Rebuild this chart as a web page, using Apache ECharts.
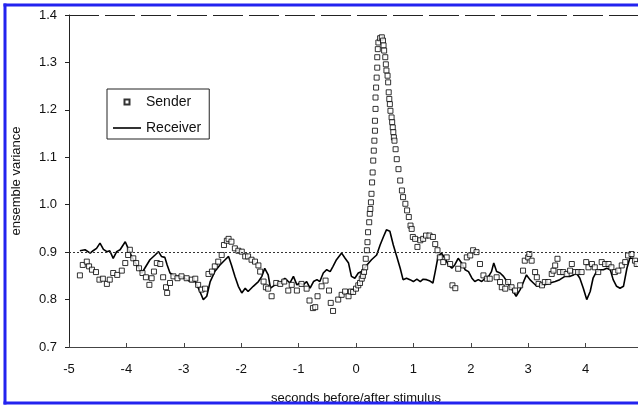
<!DOCTYPE html>
<html>
<head>
<meta charset="utf-8">
<script src="https://cdn.jsdelivr.net/npm/echarts@6/dist/echarts.min.js"></script>
<style>
  html, body { margin: 0; padding: 0; background: #fff; }
  #main { width: 638px; height: 407px; }
</style>
</head>
<body>
<div id="main"></div>
<script>
// Sender / Receiver ensemble variance vs time
var xTicks = [-5, -4, -3, -2, -1, 0, 1, 2, 3, 4];
var yTicks = [0.7, 0.8, 0.9, 1.0, 1.1, 1.2, 1.3, 1.4];
var refLevel = 0.9;

var receiverT = [-4.81, -4.72, -4.63, -4.58, -4.52, -4.46, -4.40, -4.34, -4.29, -4.23, -4.17, -4.11, -4.02, -3.97, -3.91, -3.82, -3.73, -3.68, -3.59, -3.50,
  -3.44, -3.39, -3.33, -3.29, -3.24, -3.15, -3.07, -2.98, -2.89, -2.80, -2.72, -2.66, -2.60, -2.54, -2.46, -2.37, -2.28, -2.22, -2.17, -2.11,
  -2.05, -1.99, -1.93, -1.88, -1.79, -1.70, -1.64, -1.59, -1.53, -1.49, -1.41, -1.32, -1.24, -1.15, -1.09, -1.03, -0.98, -0.92, -0.86, -0.80,
  -0.74, -0.68, -0.63, -0.57, -0.51, -0.45, -0.40, -0.34, -0.25, -0.19, -0.13, -0.08, -0.02, 0.04, 0.10, 0.19, 0.27, 0.36, 0.42, 0.48,
  0.53, 0.59, 0.65, 0.71, 0.77, 0.82, 0.88, 0.94, 1.00, 1.06, 1.12, 1.17, 1.23, 1.29, 1.34, 1.38, 1.43, 1.49, 1.55, 1.61,
  1.67, 1.72, 1.78, 1.84, 1.90, 1.96, 2.02, 2.07, 2.13, 2.19, 2.25, 2.31, 2.36, 2.40, 2.45, 2.51, 2.57, 2.63, 2.68, 2.74,
  2.79, 2.86, 2.91, 2.97, 3.03, 3.09, 3.15, 3.21, 3.29, 3.38, 3.47, 3.55, 3.64, 3.73, 3.79, 3.84, 3.90, 3.96, 4.02, 4.08,
  4.13, 4.19, 4.25, 4.31, 4.37, 4.43, 4.48, 4.54, 4.60, 4.66, 4.72, 4.77, 4.83, 4.89];
var receiverV = [0.903, 0.905, 0.898, 0.903, 0.908, 0.919, 0.906, 0.901, 0.903, 0.887, 0.901, 0.905, 0.922, 0.908, 0.891, 0.873, 0.856, 0.866, 0.884, 0.894,
  0.901, 0.891, 0.889, 0.873, 0.856, 0.849, 0.849, 0.845, 0.838, 0.838, 0.817, 0.800, 0.807, 0.838, 0.859, 0.873, 0.884, 0.891, 0.873, 0.849,
  0.828, 0.814, 0.824, 0.817, 0.828, 0.838, 0.849, 0.866, 0.852, 0.824, 0.831, 0.835, 0.845, 0.835, 0.849, 0.831, 0.835, 0.831, 0.838, 0.824,
  0.838, 0.842, 0.838, 0.856, 0.863, 0.859, 0.870, 0.884, 0.898, 0.887, 0.877, 0.849, 0.845, 0.856, 0.859, 0.873, 0.884, 0.894, 0.915, 0.933,
  0.947, 0.944, 0.915, 0.891, 0.866, 0.842, 0.845, 0.842, 0.838, 0.843, 0.838, 0.843, 0.842, 0.839, 0.835, 0.859, 0.891, 0.898, 0.887, 0.873,
  0.866, 0.873, 0.887, 0.877, 0.863, 0.859, 0.845, 0.838, 0.842, 0.838, 0.845, 0.849, 0.859, 0.877, 0.859, 0.856, 0.849, 0.838, 0.828, 0.817,
  0.807, 0.821, 0.835, 0.852, 0.842, 0.835, 0.828, 0.831, 0.831, 0.835, 0.838, 0.842, 0.849, 0.849, 0.852, 0.856, 0.845, 0.824, 0.800, 0.817,
  0.845, 0.859, 0.863, 0.863, 0.866, 0.863, 0.842, 0.828, 0.824, 0.828, 0.866, 0.887, 0.887, 0.870];

var senderT = [-4.81, -4.76, -4.69, -4.65, -4.60, -4.53, -4.47, -4.41, -4.34, -4.29, -4.23, -4.16, -4.08, -4.02, -3.97, -3.94, -3.88, -3.83, -3.78, -3.72,
  -3.66, -3.60, -3.56, -3.52, -3.47, -3.41, -3.36, -3.31, -3.29, -3.24, -3.18, -3.11, -3.04, -2.95, -2.86, -2.80, -2.75, -2.69, -2.63, -2.57,
  -2.51, -2.46, -2.40, -2.34, -2.30, -2.25, -2.22, -2.17, -2.11, -2.05, -1.99, -1.93, -1.88, -1.82, -1.76, -1.70, -1.67, -1.61, -1.57, -1.53,
  -1.47, -1.39, -1.32, -1.25, -1.18, -1.12, -1.03, -0.95, -0.86, -0.81, -0.75, -0.71, -0.67, -0.60, -0.53, -0.47, -0.44, -0.40, -0.31, -0.25,
  -0.19, -0.13, -0.09, -0.05, 0.00, 0.04, 0.07, 0.10, 0.12, 0.14, 0.16, 0.17, 0.19, 0.20, 0.21, 0.23, 0.24, 0.25, 0.26, 0.27,
  0.28, 0.29, 0.30, 0.31, 0.32, 0.33, 0.33, 0.34, 0.34, 0.35, 0.36, 0.37, 0.37, 0.38, 0.39, 0.42, 0.45, 0.47, 0.48, 0.49,
  0.51, 0.52, 0.53, 0.55, 0.56, 0.57, 0.58, 0.59, 0.60, 0.62, 0.63, 0.64, 0.65, 0.66, 0.67, 0.69, 0.71, 0.74, 0.77, 0.80,
  0.82, 0.86, 0.89, 0.92, 0.95, 0.97, 0.99, 1.03, 1.07, 1.12, 1.17, 1.22, 1.28, 1.34, 1.38, 1.42, 1.46, 1.52, 1.58, 1.64,
  1.68, 1.73, 1.78, 1.87, 1.93, 1.99, 2.04, 2.10, 2.16, 2.22, 2.28, 2.33, 2.45, 2.51, 2.54, 2.60, 2.65, 2.71, 2.77, 2.86,
  2.91, 2.94, 3.00, 3.02, 3.06, 3.12, 3.15, 3.18, 3.24, 3.29, 3.35, 3.41, 3.44, 3.47, 3.51, 3.55, 3.61, 3.67, 3.73, 3.76,
  3.82, 3.87, 3.93, 4.01, 4.05, 4.11, 4.16, 4.22, 4.28, 4.34, 4.40, 4.45, 4.51, 4.57, 4.63, 4.69, 4.74, 4.80, 4.86, 4.89];
var senderV = [0.851, 0.873, 0.880, 0.870, 0.863, 0.858, 0.842, 0.844, 0.833, 0.842, 0.856, 0.852, 0.861, 0.877, 0.894, 0.905, 0.887, 0.877, 0.866, 0.856,
  0.847, 0.831, 0.845, 0.859, 0.877, 0.875, 0.847, 0.826, 0.814, 0.835, 0.849, 0.845, 0.849, 0.845, 0.842, 0.844, 0.831, 0.821, 0.823, 0.854,
  0.859, 0.870, 0.880, 0.894, 0.915, 0.924, 0.928, 0.922, 0.908, 0.903, 0.901, 0.891, 0.891, 0.884, 0.880, 0.872, 0.859, 0.838, 0.826, 0.823,
  0.807, 0.835, 0.833, 0.838, 0.819, 0.831, 0.819, 0.833, 0.823, 0.798, 0.782, 0.784, 0.807, 0.828, 0.840, 0.819, 0.793, 0.776, 0.800, 0.810,
  0.817, 0.807, 0.817, 0.816, 0.823, 0.830, 0.835, 0.844, 0.850, 0.858, 0.868, 0.886, 0.904, 0.921, 0.942, 0.963, 0.981, 0.991, 1.005, 1.023,
  1.047, 1.068, 1.093, 1.114, 1.135, 1.156, 1.177, 1.202, 1.226, 1.247, 1.268, 1.289, 1.311, 1.328, 1.342, 1.351, 1.353, 1.346, 1.336, 1.325,
  1.311, 1.296, 1.283, 1.272, 1.258, 1.237, 1.223, 1.212, 1.198, 1.184, 1.174, 1.163, 1.153, 1.142, 1.135, 1.117, 1.096, 1.075, 1.051, 1.030,
  1.016, 1.002, 0.988, 0.974, 0.956, 0.949, 0.932, 0.928, 0.911, 0.925, 0.928, 0.935, 0.935, 0.932, 0.917, 0.904, 0.889, 0.879, 0.889, 0.875,
  0.830, 0.824, 0.865, 0.872, 0.889, 0.893, 0.904, 0.900, 0.875, 0.851, 0.844, 0.844, 0.847, 0.837, 0.826, 0.823, 0.837, 0.826, 0.819, 0.830,
  0.861, 0.882, 0.889, 0.896, 0.882, 0.858, 0.847, 0.833, 0.830, 0.837, 0.837, 0.854, 0.861, 0.872, 0.886, 0.858, 0.858, 0.854, 0.861, 0.875,
  0.858, 0.858, 0.858, 0.879, 0.868, 0.875, 0.868, 0.858, 0.879, 0.875, 0.875, 0.868, 0.858, 0.861, 0.872, 0.879, 0.893, 0.896, 0.882, 0.875];

function pairs(xs, ys) {
  var out = [];
  for (var i = 0; i < xs.length; i++) out.push([xs[i], ys[i]]);
  return out;
}

var chart = echarts.init(document.getElementById('main'), null, { renderer: 'canvas' });
var font = 'Liberation Sans, Arial, sans-serif';

// legend icons: the leading moves pin the 28x14 box so the marks keep their size
var senderIcon = 'path://M0,0M28,14M11.5,4.5h5v5h-5z';
var receiverIcon = 'path://M0,0M28,14M0,6.2h28v1.6h-28z';

var option = {
  backgroundColor: '#fff',
  animation: false,
  // plot box fixed in pixels, the x axis runs on past the right edge to 5
  grid: { left: 69, right: -5, top: 15, bottom: 60, outerBoundsMode: 'none', containLabel: false },
  legend: {
    orient: 'vertical',
    left: 107,
    top: 89,
    padding: [5, 8, 4, 5],
    itemGap: 11,
    itemWidth: 28,
    itemHeight: 14,
    borderColor: '#222',
    borderWidth: 1,
    textStyle: { fontFamily: font, fontSize: 14, color: '#111' },
    data: [
      { name: 'Sender', icon: senderIcon },
      { name: 'Receiver', icon: receiverIcon, itemStyle: { color: '#000', borderWidth: 0 } }
    ]
  },
  xAxis: {
    type: 'value',
    min: -5,
    max: 5,
    interval: 1,
    name: 'seconds before/after stimulus',
    nameLocation: 'middle',
    nameGap: 45,
    nameTextStyle: { fontFamily: font, fontSize: 13, color: '#111' },
    axisLine: { onZero: false, lineStyle: { color: '#444', width: 1 } },
    axisTick: { inside: true, length: 4, lineStyle: { color: '#444' } },
    axisLabel: {
      margin: 16, fontFamily: font, fontSize: 13, color: '#111',
      formatter: function (v) { return xTicks.indexOf(v) >= 0 ? String(v) : ''; }
    },
    splitLine: { show: false }
  },
  yAxis: {
    type: 'value',
    min: 0.7,
    max: 1.4,
    interval: 0.1,
    name: 'ensemble variance',
    nameLocation: 'middle',
    nameGap: 46,
    nameTextStyle: { fontFamily: font, fontSize: 13, color: '#111' },
    axisLine: { show: true, onZero: false, lineStyle: { color: '#222', width: 1 } },
    axisTick: { show: true, length: 4, lineStyle: { color: '#222' } },
    axisLabel: {
      margin: 12, fontFamily: font, fontSize: 13, color: '#111',
      formatter: function (v) {
        for (var i = 0; i < yTicks.length; i++) {
          if (Math.abs(yTicks[i] - v) < 1e-6) return yTicks[i].toFixed(1);
        }
        return '';
      }
    },
    splitLine: { show: false }
  },
  series: [
    {
      name: 'Receiver',
      type: 'line',
      data: pairs(receiverT, receiverV),
      symbol: 'none',
      showSymbol: false,
      lineStyle: { color: '#000', width: 1.6 },
      itemStyle: { color: '#000' },
      z: 2,
      markLine: {
        silent: true,
        symbol: 'none',
        label: { show: false },
        data: [
          { yAxis: refLevel, lineStyle: { color: '#333', width: 1, type: [2, 2] } },
          { yAxis: 1.4, lineStyle: { color: '#222', width: 1.2, type: [30, 6] } }
        ]
      }
    },
    {
      name: 'Sender',
      type: 'scatter',
      data: pairs(senderT, senderV),
      symbol: 'rect',
      symbolSize: 5,
      itemStyle: { color: '#fff', borderColor: '#000', borderWidth: 1 },
      z: 3
    }
  ],
  graphic: [
    { type: 'line', shape: { x1: 5, y1: 3.5, x2: 5, y2: 404.5 }, style: { stroke: '#2323ef', lineWidth: 3 }, z: 100 },
    { type: 'line', shape: { x1: 3.5, y1: 5, x2: 638, y2: 5 }, style: { stroke: '#2323ef', lineWidth: 3 }, z: 100 },
    { type: 'line', shape: { x1: 3.5, y1: 403, x2: 638, y2: 403 }, style: { stroke: '#2323ef', lineWidth: 3 }, z: 100 }
  ]
};

chart.setOption(option);
</script>
</body>
</html>
